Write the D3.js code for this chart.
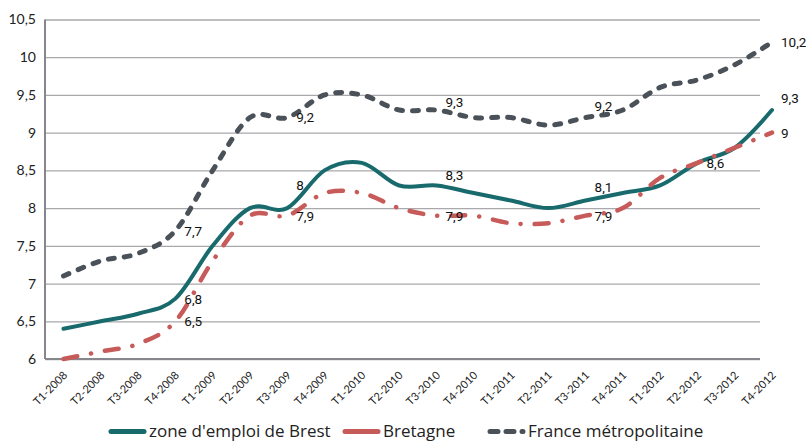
<!DOCTYPE html>
<html>
<head>
	<meta charset="utf-8">
	<title>Taux de chômage - zone d'emploi de Brest</title>
	<style>
		body { margin: 0; background: #fff; }
		svg text { font-family: Lato, "Open Sans", sans-serif; }
	</style>
</head>
<body>
<svg id="chart" width="806" height="441"></svg>

<script src="https://cdnjs.cloudflare.com/ajax/libs/d3/7.8.5/d3.min.js"></script>
<script>

	var categories = ["T1-2008", "T2-2008", "T3-2008", "T4-2008",
		"T1-2009", "T2-2009", "T3-2009", "T4-2009",
		"T1-2010", "T2-2010", "T3-2010", "T4-2010",
		"T1-2011", "T2-2011", "T3-2011", "T4-2011",
		"T1-2012", "T2-2012", "T3-2012", "T4-2012"];

	var brest    = [6.4, 6.5, 6.6, 6.8, 7.5, 8.0, 8.0, 8.5, 8.6, 8.3, 8.3, 8.2, 8.1, 8.0, 8.1, 8.2, 8.3, 8.6, 8.8, 9.3];
	var bretagne = [6.0, 6.1, 6.2, 6.5, 7.3, 7.9, 7.9, 8.2, 8.2, 8.0, 7.9, 7.9, 7.8, 7.8, 7.9, 8.0, 8.4, 8.6, 8.8, 9.0];
	var france   = [7.1, 7.3, 7.4, 7.7, 8.5, 9.2, 9.2, 9.5, 9.5, 9.3, 9.3, 9.2, 9.2, 9.1, 9.2, 9.3, 9.6, 9.7, 9.9, 10.2];

	// quarters that carry a value label
	var brestLabels    = ["T4-2008", "T3-2009", "T3-2010", "T3-2011", "T4-2012"];
	var bretagneLabels = ["T4-2008", "T3-2009", "T3-2010", "T3-2011", "T2-2012", "T4-2012"];
	var franceLabels   = ["T4-2008", "T3-2009", "T3-2010", "T3-2011", "T4-2012"];

	var yTicks = [6, 6.5, 7, 7.5, 8, 8.5, 9, 9.5, 10, 10.5];

	var seriesNames = ["zone d'emploi de Brest", "Bretagne", "France métropolitaine"];

	// vertical nudges (px) of the value labels, same order as the label lists
	var brestNudge    = [0, -23, -10, -13, -12];
	var bretagneNudge = [0, 0, 0, 0, 0, 0];
	var franceNudge   = [0, 0, -8, -11, 0];

	function fmt(v) {
		return String(v).replace(".", ",");
	}

	var svg = d3.select("#chart");

	var plotLeft = 45, plotRight = 760;

	var x = d3.scalePoint()
		.domain(categories)
		.range([63.5, 772]);

	var y = d3.scaleLinear()
		.domain([6, 10.5])
		.range([359, 19.5]);

	// grid + y labels
	var yAxis = svg.append("g")
		.attr("transform", "translate(" + plotLeft + ",0)")
		.call(d3.axisLeft(y).tickValues(yTicks).tickSize(-(plotRight - plotLeft)).tickPadding(9).tickFormat(fmt));
	yAxis.select(".domain").remove();
	yAxis.selectAll(".tick line")
		.attr("stroke", "#a9a9ad")
		.attr("stroke-width", 1.3);
	yAxis.selectAll(".tick text")
		.attr("fill", "#222")
		.style("font-size", "14px");

	// axis lines
	svg.append("line")
		.attr("x1", plotLeft).attr("x2", plotLeft)
		.attr("y1", y(10.5)).attr("y2", y(6))
		.attr("stroke", "#86868c").attr("stroke-width", 2);
	svg.append("line")
		.attr("x1", plotLeft).attr("x2", plotRight)
		.attr("y1", y(6)).attr("y2", y(6))
		.attr("stroke", "#86868c").attr("stroke-width", 2);

	// x labels
	var xAxis = svg.append("g")
		.attr("transform", "translate(0," + y(6) + ")")
		.call(d3.axisBottom(x).tickSize(0).tickPadding(0));
	xAxis.select(".domain").remove();
	xAxis.selectAll(".tick text")
		.attr("fill", "#222")
		.style("font-size", "11px")
		.attr("text-anchor", "end")
		.attr("x", 0).attr("y", 0).attr("dy", 0)
		.attr("transform", "translate(4,17) rotate(-45)");

	var series = [
		{name: seriesNames[0], values: brest, labels: brestLabels, nudge: brestNudge, color: "#186a6c", width: 4, dash: null},
		{name: seriesNames[1], values: bretagne, labels: bretagneLabels, nudge: bretagneNudge, color: "#c75b5a", width: 4.5, dash: "14 14 0.1 14"},
		{name: seriesNames[2], values: france, labels: franceLabels, nudge: franceNudge, color: "#4a5158", width: 5, dash: "6 10"}
	];

	var line = d3.line()
		.x(function(d, i) { return x(categories[i]); })
		.y(function(d) { return y(d); })
		.curve(d3.curveCardinal.tension(0));

	series.forEach(function(s) {
		svg.append("path")
			.datum(s.values)
			.attr("fill", "none")
			.attr("stroke", s.color)
			.attr("stroke-width", s.width)
			.attr("stroke-linecap", "round")
			.attr("stroke-linejoin", "round")
			.attr("stroke-dasharray", s.dash)
			.attr("d", line);
	});

	series.forEach(function(s) {
		svg.append("g").selectAll("text")
			.data(s.labels)
			.enter().append("text")
			.attr("x", function(c) { return x(c) + 9; })
			.attr("y", function(c, i) { return y(s.values[categories.indexOf(c)]) + s.nudge[i]; })
			.attr("dy", "0.36em")
			.attr("fill", "#111")
			.style("font-family", "Roboto, sans-serif")
			.style("font-size", "13.5px")
			.text(function(c) { return fmt(s.values[categories.indexOf(c)]); });
	});

	// legend
	var legendX = [108, 342, 487];
	var legend = svg.append("g");
	series.forEach(function(s, i) {
		legend.append("line")
			.attr("x1", legendX[i] + 3).attr("x2", legendX[i] + 36)
			.attr("y1", 431.5).attr("y2", 431.5)
			.attr("stroke", s.color)
			.attr("stroke-width", 5)
			.attr("stroke-linecap", "round")
			.attr("stroke-dasharray", i == 2 ? "8 8" : null);
		legend.append("text")
			.attr("x", legendX[i] + 41)
			.attr("y", 436.5)
			.attr("fill", "#222")
			.style("font-family", "'Open Sans', sans-serif")
			.style("font-size", "17px")
			.text(s.name);
	});

</script>
</body>
</html>
